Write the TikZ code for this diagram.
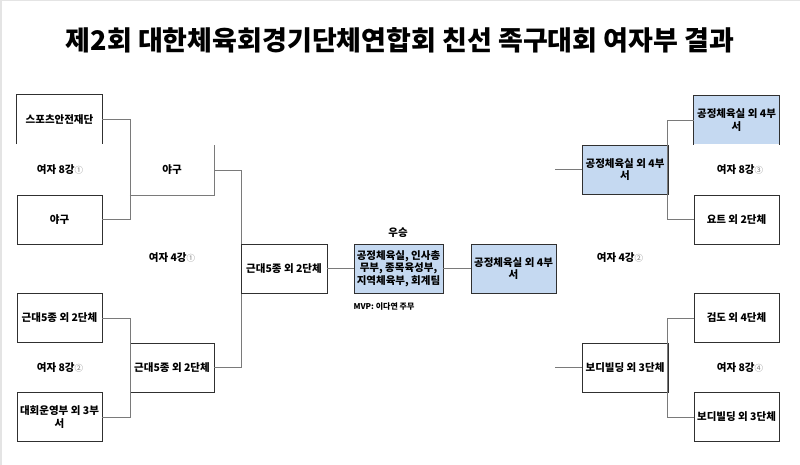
\documentclass[tikz,border=0pt]{standalone}
\usepackage{fontspec}
\setmainfont{Noto Sans CJK KR}
\definecolor{boxblue}{HTML}{C5D9F1}
\definecolor{boxline}{HTML}{303030}
\definecolor{connline}{HTML}{7A7A7A}
\definecolor{framegray}{HTML}{E4E4E4}
\newcommand\circnum[1]{{\mdseries\color{gray}\fontsize{8.5}{8.5}\selectfont #1}}
\begin{document}
\begin{tikzpicture}[x=1pt,y=-1pt,
  box/.style={minimum width=85pt, minimum height=49pt, inner sep=1pt, align=center,
    font=\bfseries\fontsize{10.5}{12.5}\selectfont, text=black},
  fullbox/.style={box, draw=boxline, line width=0.8pt},
  bluefill/.style={fill=boxblue},
  edge/.style={draw=boxline, line width=0.8pt},
  conn/.style={draw=connline, line width=0.8pt},
  lbl/.style={font=\bfseries\fontsize{10.5}{12.5}\selectfont, inner sep=0pt},
  small/.style={font=\bfseries\fontsize{8}{9}\selectfont, inner sep=0pt}]
\useasboundingbox (0,0) rectangle (800,465);
\fill[white] (0,0) rectangle (800,465);
\draw[framegray, line width=1.5pt] (0.75,465) -- (0.75,0.75) -- (800,0.75);

% title
\node[font=\bfseries\fontsize{27}{30}\selectfont, inner sep=0pt] (title) at (400,40)
  {제2회 대한체육회경기단체연합회 친선 족구대회 여자부 결과};

% left round of 8
\node[box] (la) at (59.5,119.5) {스포츠안전재단};
\draw[edge] (la.south west) |- (la.north east) -- (la.south east);
\node[fullbox] (lb) at (59.5,219.5) {야구};
\node[fullbox] (lc) at (59.5,318) {근대5종 외 2단체};
\node[fullbox] (ld) at (59.5,417) {대회운영부 외 3부\\서};

% left round of 4
\node[box, minimum width=84pt, minimum height=50pt] (lab) at (172,170) {야구};
\draw[conn] (lab.south west) -- (lab.south east) -- (lab.north east);
\node[fullbox, minimum width=84pt] (lcd) at (172,367.5) {근대5종 외 2단체};

\draw[conn] (la.east) -- ++(28,0) |- (lb.east);
\draw[conn] (lc.east) -- ++(28,0) |- (ld.east);
\draw[conn] (lab.east) -- ++(27,0) |- (lcd.east);

% semifinal / final
\node[fullbox, minimum width=86pt] (ls) at (284,268.5) {근대5종 외 2단체};
\node[fullbox, bluefill, minimum width=89pt] (fin) at (398.5,268.5)
  {공정체육실, 인사총\\무부, 종목육성부,\\지역체육부, 회계팀};
\node[fullbox, bluefill] (rs) at (513.5,268.5) {공정체육실 외 4부\\서};
\draw[conn] (ls.east) -- (fin.west);
\draw[conn] (fin.east) -- (rs.west);
\node[lbl] (win) at (398,233) {우승};
\node[small] (mvp) at (384,307) {MVP: 이다연 주무};

% right round of 4
\node[fullbox, bluefill, minimum width=86pt] (rab) at (625,169.5) {공정체육실 외 4부\\서};
\node[fullbox, minimum width=86pt] (rcd) at (625,367.5) {보디빌딩 외 3단체};
\draw[conn] (rab.west) -- ++(-27,0) coordinate (rabfree);
\draw[conn] (rcd.west) -- ++(-27,0) coordinate (rcdfree);

% right round of 8
\node[box, bluefill] (ra) at (736.5,120) {공정체육실 외 4부\\서};
\draw[edge] (ra.south west) |- (ra.north east) -- (ra.south east);
\node[fullbox] (rb) at (736.5,219.5) {요트 외 2단체};
\node[fullbox] (rc) at (736.5,318) {검도 외 4단체};
\node[fullbox] (rd) at (736.5,417) {보디빌딩 외 3단체};
\draw[conn] (ra.west) -- ++(-26,0) |- (rb.west);
\draw[conn] (rc.west) -- ++(-26,0) |- (rd.west);

% round labels
\node[lbl] (q1) at (60,170) {여자 8강\circnum{①}};
\node[lbl] (q2) at (60,368) {여자 8강\circnum{②}};
\node[lbl] (q3) at (740,170) {여자 8강\circnum{③}};
\node[lbl] (q4) at (740,368) {여자 8강\circnum{④}};
\node[lbl] (s1) at (172,258) {여자 4강\circnum{①}};
\node[lbl] (s2) at (620,258) {여자 4강\circnum{②}};
\end{tikzpicture}
\end{document}
